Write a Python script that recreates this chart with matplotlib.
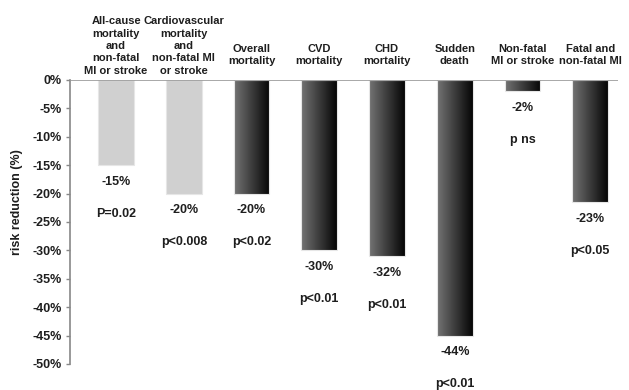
import numpy as np
import matplotlib
matplotlib.use("Agg")
import matplotlib.pyplot as plt
from matplotlib.colors import LinearSegmentedColormap

categories = [
    "All-cause\nmortality\nand\nnon-fatal\nMI or stroke",
    "Cardiovascular\nmortality\nand\nnon-fatal MI\nor stroke",
    "Overall\nmortality",
    "CVD\nmortality",
    "CHD\nmortality",
    "Sudden\ndeath",
    "Non-fatal\nMI or stroke",
    "Fatal and\nnon-fatal MI",
]
values = [-15, -20, -20, -30, -31, -45, -2, -21.5]
value_labels = ["-15%", "-20%", "-20%", "-30%", "-32%", "-44%", "-2%", "-23%"]
p_labels = ["P=0.02", "p<0.008", "p<0.02", "p<0.01", "p<0.01", "p<0.01", "p ns", "p<0.05"]
light_bar = [True, True, False, False, False, False, False, False]
yticks = list(range(0, -55, -5))

plt.rcParams['font.family'] = ['Liberation Sans', 'DejaVu Sans']
plt.rcParams['font.weight'] = 'bold'

fig = plt.figure(figsize=(6.29, 3.9), dpi=100)
ax = fig.add_axes([70/629, 26/390, 548/629, 284/390])

x = np.arange(len(categories))
width = 0.53
cmap = LinearSegmentedColormap.from_list("g", ["#747474", "#3c3c3c", "#050505"])
grad = np.linspace(0, 1, 256).reshape(1, -1)

bars = ax.bar(x, values, width=width, color="#d0d0d0", edgecolor="#e6e6e6",
              linewidth=0.8, zorder=2)
for b, lb, v, xi in zip(bars, light_bar, values, x):
    if not lb:
        b.set_facecolor("none")
        im = ax.imshow(grad, cmap=cmap, aspect="auto",
                       extent=(xi - width/2, xi + width/2, v, 0), zorder=1.5)
        im.set_clip_path(b)

txtc = "#1e1e1e"
for xi, v, vl, pl in zip(x, values, value_labels, p_labels):
    ax.annotate(vl, (xi, v), xytext=(0, -12), textcoords="offset points",
                ha="center", va="center", fontsize=9, fontweight="bold", color=txtc)
    ax.annotate(pl, (xi, v), xytext=(0, -35), textcoords="offset points",
                ha="center", va="center", fontsize=9, fontweight="bold", color=txtc,
                annotation_clip=False)

for xi, c in zip(x, categories):
    off = 3 if c.count("\n") > 1 else 10
    ax.annotate(c, (xi, 0), xytext=(0, off), textcoords="offset points",
                ha="center", va="bottom", fontsize=8, fontweight="bold",
                color=txtc, linespacing=1.3, annotation_clip=False)

ax.axhline(0, color="#999999", linewidth=1.2, zorder=3)
ax.set_xlim(-0.68, 7.41)
ax.set_ylim(-50, 0)
ax.set_yticks(yticks)
ax.set_yticklabels([f"{t}%" for t in yticks], fontsize=9, fontweight="bold", color=txtc)
ax.set_xticks([])
for s in ["top", "right", "bottom"]:
    ax.spines[s].set_visible(False)
ax.spines["left"].set_color("#888888")
ax.spines["left"].set_linewidth(1.2)
ax.tick_params(axis="y", length=3, color="#888888", width=1, pad=3)
ax.set_ylabel("risk reduction (%)", fontsize=9, fontweight="bold", color=txtc)
ax.yaxis.set_label_coords(-0.085, 0.57)

fig.savefig("out.png", dpi=100)
